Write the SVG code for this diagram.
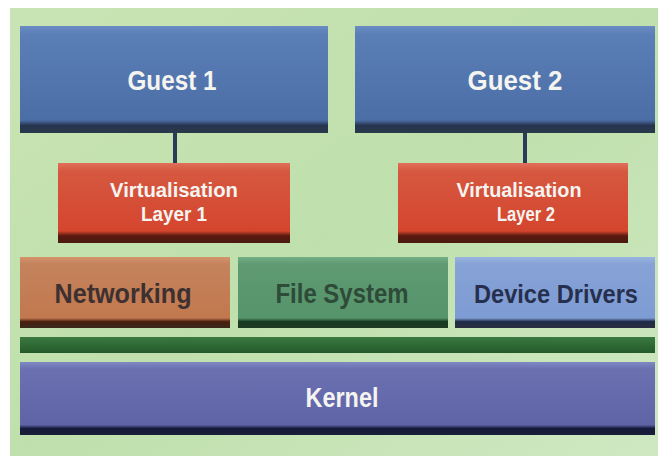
<svg xmlns="http://www.w3.org/2000/svg" width="658" height="456" viewBox="0 0 658 456">
<defs>
<linearGradient id="bg" x1="0" y1="0" x2="1" y2="1">
<stop offset="0" stop-color="#c9e4b4"/><stop offset="0.5" stop-color="#bfe0ac"/><stop offset="1" stop-color="#cfe8c2"/>
</linearGradient>
<linearGradient id="gBlue" x1="0" y1="0" x2="0" y2="1">
<stop offset="0" stop-color="#6a8cc2"/><stop offset="0.08" stop-color="#5a7eb6"/><stop offset="0.88" stop-color="#4c6ea6"/><stop offset="0.93" stop-color="#26344f"/><stop offset="1" stop-color="#2a3a4a"/>
</linearGradient>
<linearGradient id="gRed" x1="0" y1="0" x2="0" y2="1">
<stop offset="0" stop-color="#e0705a"/><stop offset="0.1" stop-color="#d65840"/><stop offset="0.85" stop-color="#d5452e"/><stop offset="0.91" stop-color="#5a1a10"/><stop offset="1" stop-color="#4a1a10"/>
</linearGradient>
<linearGradient id="gNet" x1="0" y1="0" x2="0" y2="1">
<stop offset="0" stop-color="#d4946c"/><stop offset="0.1" stop-color="#c4835c"/><stop offset="0.86" stop-color="#c2784e"/><stop offset="0.91" stop-color="#4a2010"/><stop offset="1" stop-color="#3a2a1a"/>
</linearGradient>
<linearGradient id="gFs" x1="0" y1="0" x2="0" y2="1">
<stop offset="0" stop-color="#74ae86"/><stop offset="0.1" stop-color="#5f9a72"/><stop offset="0.86" stop-color="#56946a"/><stop offset="0.91" stop-color="#163a20"/><stop offset="1" stop-color="#1e3a22"/>
</linearGradient>
<linearGradient id="gDd" x1="0" y1="0" x2="0" y2="1">
<stop offset="0" stop-color="#9ab4e0"/><stop offset="0.1" stop-color="#86a2d6"/><stop offset="0.86" stop-color="#7e9cd4"/><stop offset="0.91" stop-color="#202a48"/><stop offset="1" stop-color="#2a3040"/>
</linearGradient>
<linearGradient id="gKer" x1="0" y1="0" x2="0" y2="1">
<stop offset="0" stop-color="#8088c4"/><stop offset="0.1" stop-color="#6a70b0"/><stop offset="0.86" stop-color="#5e64a6"/><stop offset="0.91" stop-color="#141a3a"/><stop offset="1" stop-color="#1a2038"/>
</linearGradient>
<linearGradient id="gBar" x1="0" y1="0" x2="0" y2="1">
<stop offset="0" stop-color="#3a7a40"/><stop offset="1" stop-color="#245a2a"/>
</linearGradient>
</defs>
<style>
.lt{font-family:"Liberation Sans",Arial,sans-serif;font-weight:bold;fill:#f4f4f0;text-anchor:middle}
.dk{font-family:"Liberation Sans",Arial,sans-serif;font-weight:bold;text-anchor:middle}
.conn{stroke:#2a3a5a;stroke-width:4;fill:none}
</style>
<rect x="0" y="0" width="658" height="456" fill="#ffffff"/>
<rect x="10" y="8" width="648" height="448" fill="url(#bg)"/>
<g id="connectors">
<line class="conn" x1="175" y1="133" x2="175" y2="163"/>
<line class="conn" x1="525" y1="133" x2="525" y2="163"/>
</g>
<g id="guest1">
<rect x="20" y="26" width="308" height="107" fill="url(#gBlue)"/>
<text class="lt" x="172" y="90" font-size="28" textLength="89" lengthAdjust="spacingAndGlyphs">Guest 1</text>
</g>
<g id="guest2">
<rect x="355" y="26" width="300" height="107" fill="url(#gBlue)"/>
<text class="lt" x="515" y="90" font-size="28" textLength="95" lengthAdjust="spacingAndGlyphs">Guest 2</text>
</g>
<g id="virt1">
<rect x="58" y="163" width="232" height="80" fill="url(#gRed)"/>
<text class="lt" x="174" y="197" font-size="20" textLength="128" lengthAdjust="spacingAndGlyphs">Virtualisation</text>
<text class="lt" x="174" y="221" font-size="20" textLength="66" lengthAdjust="spacingAndGlyphs">Layer 1</text>
</g>
<g id="virt2">
<rect x="398" y="163" width="230" height="80" fill="url(#gRed)"/>
<text class="lt" x="519" y="197" font-size="20" textLength="125" lengthAdjust="spacingAndGlyphs">Virtualisation</text>
<text class="lt" x="526" y="221" font-size="20" textLength="58" lengthAdjust="spacingAndGlyphs">Layer 2</text>
</g>
<g id="networking">
<rect x="20" y="257" width="210" height="71" fill="url(#gNet)"/>
<text class="dk" x="123" y="303" font-size="27" fill="#3c3030" textLength="137" lengthAdjust="spacingAndGlyphs">Networking</text>
</g>
<g id="filesystem">
<rect x="238" y="257" width="210" height="71" fill="url(#gFs)"/>
<text class="dk" x="342" y="303" font-size="27" fill="#2e4a38" textLength="133" lengthAdjust="spacingAndGlyphs">File System</text>
</g>
<g id="devicedrivers">
<rect x="455" y="257" width="200" height="71" fill="url(#gDd)"/>
<text class="dk" x="556" y="303" font-size="26" fill="#26304e" textLength="164" lengthAdjust="spacingAndGlyphs">Device Drivers</text>
</g>
<g id="bus">
<rect x="20" y="337" width="635" height="16" fill="url(#gBar)"/>
</g>
<g id="kernel">
<rect x="20" y="362" width="635" height="73" fill="url(#gKer)"/>
<text class="lt" x="342" y="407" font-size="27" textLength="73" lengthAdjust="spacingAndGlyphs">Kernel</text>
</g>
</svg>
